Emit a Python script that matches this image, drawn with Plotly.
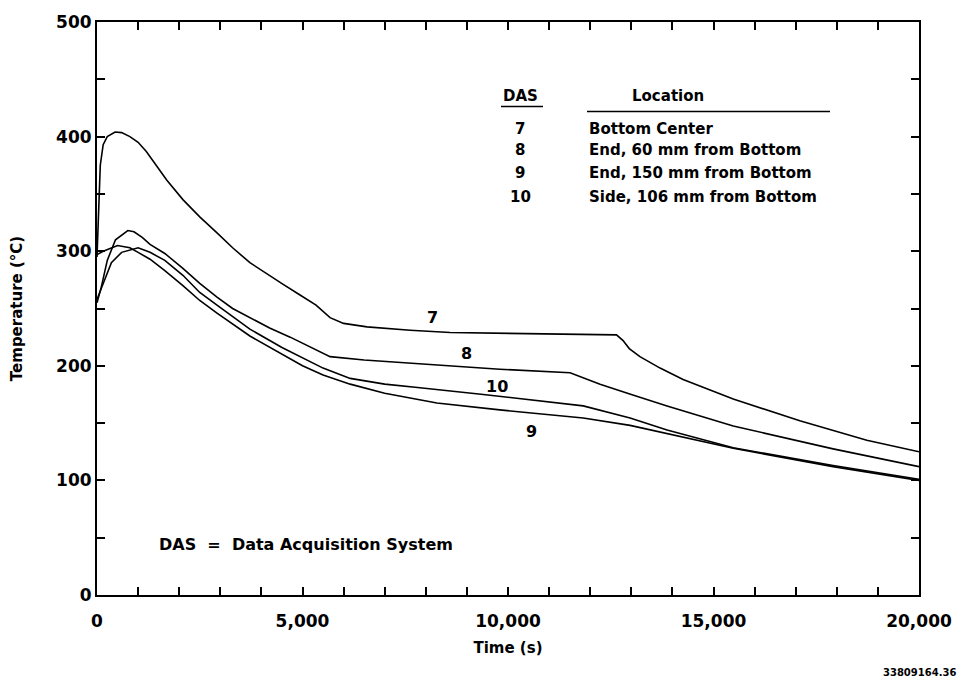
import plotly.graph_objects as go

# ---- data ----
t7 = [0, 40, 80, 150, 250, 440, 600, 800, 1000, 1200, 1400, 1700, 2090, 2500, 2920, 3300, 3720, 4130, 4530, 4930,
      5330, 5670, 6000, 6570, 7620, 8590, 10220, 12640, 12800, 12950, 13210, 13700, 14260, 15480, 17100, 18730, 20000]
T7 = [295, 340, 375, 393, 400, 404, 403.5, 400, 395, 387, 377, 362, 345, 330, 316, 303, 290, 280, 271, 262,
      253, 242, 237, 234, 231, 229, 228, 227, 222, 215, 208, 198, 188, 171, 152, 135, 125]

t8 = [0, 100, 250, 450, 750, 900, 1100, 1290, 1650, 2090, 2500, 2920, 3300, 3720, 4200, 4700, 5200, 5670, 6500, 7780,
      9800, 11510, 12240, 13000, 13870, 15480, 17910, 20000]
T8 = [255, 268, 292, 310, 318, 317, 312, 306, 298, 285, 272, 260, 250, 242, 233, 225, 216, 208, 205, 202,
      197, 194, 184, 175, 165, 147.5, 127.5, 112]

t10 = [0, 150, 350, 600, 1000, 1290, 1650, 2090, 2500, 2920, 3720, 4500, 5000, 5500, 6160, 7000, 7800, 9400,
       11830, 12970, 13870, 15480, 17910, 20000]
T10 = [258, 272, 290, 299, 303, 299, 292, 279, 264, 253, 232, 216, 207, 198, 189, 184, 181, 175,
       165, 154.5, 144, 128.5, 113, 101]

t9 = [0, 150, 500, 800, 1000, 1290, 1650, 2090, 2500, 2920, 3720, 4500, 5000, 5500, 6160, 7000, 8270, 9800,
      11830, 12970, 13870, 15480, 17910, 20000]
T9 = [297, 300, 305, 303, 299, 293, 283, 270, 257, 246, 226, 210, 200, 192, 184, 176, 167.5, 161.5,
      154.5, 148, 140.6, 128, 112, 100]

series = [("7", t7, T7), ("8", t8, T8), ("10", t10, T10), ("9", t9, T9)]

# curve labels placed on the chart
curve_labels = ["7", "8", "10", "9"]
label_t = [8175, 9000, 9730, 10570]
label_T = [242, 211, 182, 143]

# legend table
das_ids = ["7", "8", "9", "10"]
das_locations = ["Bottom Center", "End, 60 mm from Bottom", "End, 150 mm from Bottom", "Side, 106 mm from Bottom"]

x_tickvals = list(range(0, 20001, 1000))
x_ticktext = ["0" if v == 0 else (f"{v:,}" if v % 5000 == 0 else "") for v in x_tickvals]
y_tickvals = list(range(0, 501, 50))
y_ticktext = [str(v) if v % 100 == 0 else "" for v in y_tickvals]

FONT = "DejaVu Sans"
L, R, T, B = 97, 919, 19, 595  # plot area in pixels


def px(x):
    return (x - L) / (R - L)


def py(y):
    return (B - y) / (B - T)


def bold(size):
    return dict(family=FONT, size=size, color="black", weight="bold")


fig = go.Figure()
for name, tx, ty in series:
    fig.add_trace(go.Scatter(x=tx, y=ty, mode="lines", name=name,
                             line=dict(color="black", width=1.6),
                             showlegend=False, hoverinfo="skip"))

ann = []
for lab, lx, ly in zip(curve_labels, label_t, label_T):
    ann.append(dict(x=lx, y=ly, xref="x", yref="y", text=lab, showarrow=False,
                    xanchor="center", yanchor="middle", font=bold(16)))

# table header
ann.append(dict(x=px(520), y=py(93), xref="paper", yref="paper", text="DAS", showarrow=False,
                xanchor="center", yanchor="middle", font=bold(15)))
ann.append(dict(x=px(668), y=py(93), xref="paper", yref="paper", text="Location", showarrow=False,
                xanchor="center", yanchor="middle", font=bold(15)))
row_y = [127, 148, 171, 195]
for d, loc, ry in zip(das_ids, das_locations, row_y):
    ann.append(dict(x=px(520), y=py(ry), xref="paper", yref="paper", text=d, showarrow=False,
                    xanchor="center", yanchor="middle", font=bold(15)))
    ann.append(dict(x=px(587), y=py(ry), xref="paper", yref="paper", text=loc, showarrow=False,
                    xanchor="left", yanchor="middle", font=bold(15)))

ann.append(dict(x=px(157), y=py(544), xref="paper", yref="paper", xanchor="left", yanchor="middle",
                text="DAS  =  Data Acquisition System", showarrow=False, font=bold(16)))
ann.append(dict(x=px(958), y=py(673), xref="paper", yref="paper", xanchor="right", yanchor="middle",
                text="33809164.36", showarrow=False, font=bold(10)))

shapes = [
    dict(type="line", xref="paper", yref="paper", x0=px(501), x1=px(543), y0=py(104), y1=py(104),
         line=dict(color="black", width=1.5)),
    dict(type="line", xref="paper", yref="paper", x0=px(587), x1=px(830), y0=py(109), y1=py(109),
         line=dict(color="black", width=1.5)),
]

axis_common = dict(showgrid=False, zeroline=False, showline=True, linecolor="black", linewidth=2,
                   ticks="inside", ticklen=8, tickwidth=1.5, tickcolor="black", mirror="ticks",
                   tickfont=bold(17))

fig.update_layout(
    width=968, height=682,
    margin=dict(l=L, r=968 - R, t=T, b=682 - B),
    paper_bgcolor="white", plot_bgcolor="white",
    xaxis=dict(range=[0, 20000], tickmode="array", tickvals=x_tickvals, ticktext=x_ticktext,
               ticklabelstandoff=10,
               title=dict(text="Time (s)", font=bold(15), standoff=12),
               **axis_common),
    yaxis=dict(range=[0, 500], tickmode="array", tickvals=y_tickvals, ticktext=y_ticktext,
               title=dict(text="Temperature (°C)", font=bold(15), standoff=30),
               **axis_common),
    annotations=ann, shapes=shapes,
)

fig.write_html("out.html")
